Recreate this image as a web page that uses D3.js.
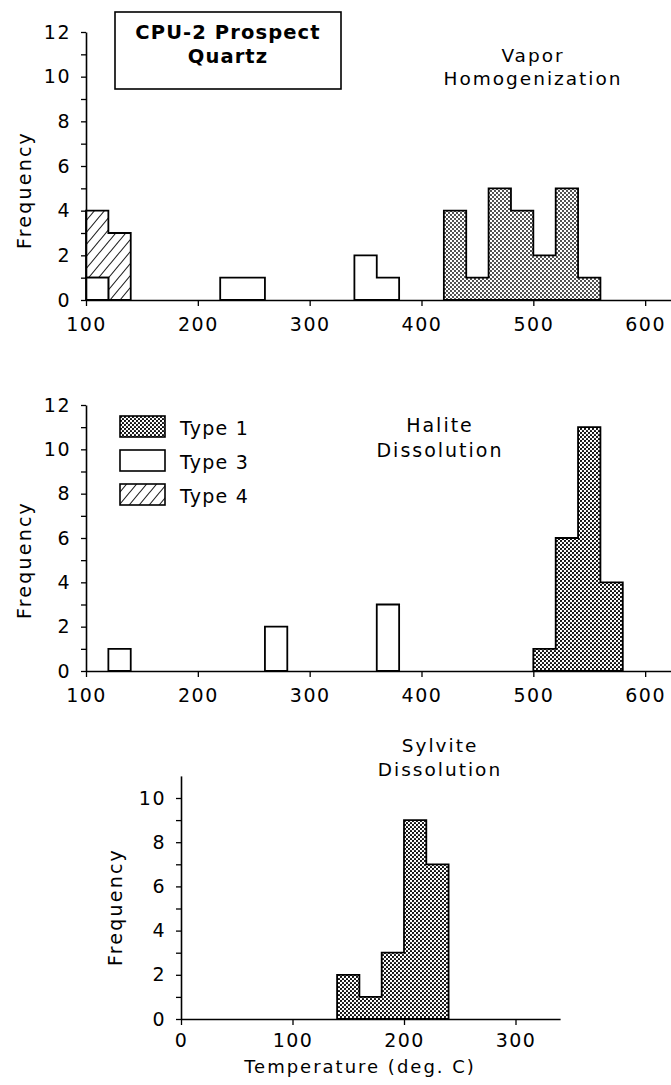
<!DOCTYPE html>
<html><head><meta charset="utf-8">
<script src="https://cdn.jsdelivr.net/npm/d3@7"></script>
<style>
body{margin:0;background:#fff}
svg text{font-family:"DejaVu Sans",sans-serif;fill:#000}
</style>
</head><body>
<svg id="c" width="671" height="1085"></svg>
<script>
const binWidth = 20;
// Panel 1: Vapor Homogenization
const vaporType1Bins = [420, 440, 460, 480, 500, 520, 540];
const vaporType1Counts = [4, 1, 5, 4, 2, 5, 1];
const vaporType3Bins = [100, 220, 240, 340, 360];
const vaporType3Counts = [1, 1, 1, 2, 1];
const vaporType4Bins = [100, 120];
const vaporType4Counts = [3, 3];          // stacked on top of Type 3
// Panel 2: Halite Dissolution
const haliteType1Bins = [500, 520, 540, 560];
const haliteType1Counts = [1, 6, 11, 4];
const haliteType3Bins = [120, 260, 360];
const haliteType3Counts = [1, 2, 3];
// Panel 3: Sylvite Dissolution
const sylviteType1Bins = [140, 160, 180, 200, 220];
const sylviteType1Counts = [2, 1, 3, 9, 7];
// ticks & labels
const xTicksUpper = [100, 200, 300, 400, 500, 600];
const xTicksLower = [0, 100, 200, 300];
const legendLabels = ["Type 1", "Type 3", "Type 4"];
const boxTitle = ["CPU-2 Prospect", "Quartz"];
const panelTitles = [["Vapor", "Homogenization"], ["Halite", "Dissolution"], ["Sylvite", "Dissolution"]];
const yLabel = "Frequency";
const xLabel = "Temperature (deg. C)";

const svg = d3.select("#c");
const defs = svg.append("defs");
function dotPattern(id, r) {
  const p = defs.append("pattern").attr("id", id).attr("patternUnits", "userSpaceOnUse")
    .attr("width", 4).attr("height", 4);
  p.append("rect").attr("width", 4).attr("height", 4).attr("fill", "#fff");
  [[1, 1], [3, 3]].forEach(c => p.append("circle").attr("cx", c[0]).attr("cy", c[1]).attr("r", r).attr("fill", "#000"));
}
dotPattern("dotsLight", 0.9);
dotPattern("dotsDark", 1.1);
const hp = defs.append("pattern").attr("id", "hatch").attr("patternUnits", "userSpaceOnUse")
  .attr("width", 10).attr("height", 12);
hp.append("rect").attr("width", 10).attr("height", 12).attr("fill", "#fff");
hp.append("path").attr("d", "M0,12 L10,0 M-1,1.2 L1,-1.2 M9,13.2 L11,10.8").attr("stroke", "#222").attr("stroke-width", 1.1);

function groups(bins, counts, bases) {
  const out = [];
  bins.forEach((b, i) => {
    const item = {x0: b, x1: b + binWidth, top: (bases ? bases[i] : 0) + counts[i], base: bases ? bases[i] : 0};
    const last = out[out.length - 1];
    if (last && last[last.length - 1].x1 === b) last.push(item); else out.push([item]);
  });
  return out;
}

function drawSeries(g, x, y, bins, counts, fill, bases) {
  const line = d3.line().x(d => x(d[0])).y(d => y(d[1]));
  groups(bins, counts, bases).forEach(grp => {
    const pts = [];
    grp.forEach(d => { pts.push([d.x0, d.top]); pts.push([d.x1, d.top]); });
    grp.slice().reverse().forEach(d => { pts.push([d.x1, d.base]); pts.push([d.x0, d.base]); });
    g.append("path").attr("d", line(pts) + "Z").attr("fill", fill)
      .attr("stroke", "#000").attr("stroke-width", 1.8).attr("stroke-linejoin", "miter");
  });
}

function styleAxis(a) {
  a.select(".domain").attr("stroke", "#000").attr("stroke-width", 1.6);
  a.selectAll(".tick line").attr("stroke", "#000").attr("stroke-width", 1.3);
  a.selectAll("text").attr("font-size", 19).attr("letter-spacing", 1.5)
    .style("font-family", '"DejaVu Sans",sans-serif').attr("fill", "#000");
}

function drawAxes(g, x, y, xTicks, yMax, yTickMax, xPad) {
  const ya = d3.axisLeft(y).tickValues(d3.range(0, yTickMax + 1)).tickSize(5).tickSizeOuter(0).tickPadding(10)
    .tickFormat(d => d % 2 === 0 ? d : "");
  const xa = d3.axisBottom(x).tickValues(xTicks).tickSize(6).tickSizeOuter(0).tickPadding(xPad);
  const gx = g.append("g").attr("transform", `translate(0,${y(0)})`).call(xa);
  const gy = g.append("g").attr("transform", `translate(${x.range()[0]},0)`).call(ya);
  styleAxis(gx); styleAxis(gy);
}

function twoLines(g, cx, lines, baselines, size) {
  lines.forEach((t, i) => g.append("text").attr("x", cx).attr("y", baselines[i])
    .attr("text-anchor", "middle").attr("font-size", size).attr("letter-spacing", 2).text(t));
}
function yTitle(g, bx, cy) {
  g.append("text").attr("transform", `translate(${bx},${cy}) rotate(-90)`).attr("text-anchor", "middle")
    .attr("font-size", 19).attr("letter-spacing", 2.2).text(yLabel);
}

// ---------- Panel 1 ----------
{
  const g = svg.append("g");
  const x = d3.scaleLinear().domain([100, 624]).range([86, 672]);
  const y = d3.scaleLinear().domain([0, 12]).range([300, 32]);
  drawSeries(g, x, y, vaporType1Bins, vaporType1Counts, "url(#dotsLight)");
  const base4 = vaporType4Bins.map(b => { const i = vaporType3Bins.indexOf(b); return i >= 0 ? vaporType3Counts[i] : 0; });
  drawSeries(g, x, y, vaporType4Bins, vaporType4Counts, "url(#hatch)", base4);
  drawSeries(g, x, y, vaporType3Bins, vaporType3Counts, "#fff");
  drawAxes(g, x, y, xTicksUpper, 12, 12, 12);
  yTitle(g, 31, 190);
  g.append("rect").attr("x", 115).attr("y", 12).attr("width", 226).attr("height", 77)
    .attr("fill", "#fff").attr("stroke", "#000").attr("stroke-width", 1.6);
  boxTitle.forEach((t, i) => g.append("text").attr("x", 228).attr("y", [39, 63][i]).attr("text-anchor", "middle")
    .attr("font-size", 19.5).attr("font-weight", "bold").attr("letter-spacing", 1.1).text(t));
  twoLines(g, 533, panelTitles[0], [62, 85], 18.5);
}

// ---------- Panel 2 ----------
{
  const g = svg.append("g");
  const x = d3.scaleLinear().domain([100, 624]).range([86, 672]);
  const y = d3.scaleLinear().domain([0, 12]).range([671, 405]);
  drawSeries(g, x, y, haliteType1Bins, haliteType1Counts, "url(#dotsDark)");
  drawSeries(g, x, y, haliteType3Bins, haliteType3Counts, "#fff");
  drawAxes(g, x, y, xTicksUpper, 12, 12, 12);
  yTitle(g, 31, 560);
  twoLines(g, 440, panelTitles[1], [432, 457], 19);
  const fills = ["url(#dotsDark)", "#fff", "url(#hatch)"];
  legendLabels.forEach((t, i) => {
    const yy = 416 + i * 34;
    g.append("rect").attr("x", 120).attr("y", yy).attr("width", 45).attr("height", 21)
      .attr("fill", fills[i]).attr("stroke", "#000").attr("stroke-width", 1.6);
    g.append("text").attr("x", 180).attr("y", yy + 19).attr("font-size", 19).attr("letter-spacing", 1.2).text(t);
  });
}

// ---------- Panel 3 ----------
{
  const g = svg.append("g");
  const x = d3.scaleLinear().domain([0, 340]).range([181, 181 + 340 * 1.115]);
  const y = d3.scaleLinear().domain([0, 11]).range([1019, 1019 - 11 * 22.1]);
  drawSeries(g, x, y, sylviteType1Bins, sylviteType1Counts, "url(#dotsDark)");
  drawAxes(g, x, y, xTicksLower, 11, 10, 9);
  yTitle(g, 122, 907);
  twoLines(g, 440, panelTitles[2], [752, 776], 18.5);
  g.append("text").attr("x", 360).attr("y", 1073).attr("text-anchor", "middle")
    .attr("font-size", 18).attr("letter-spacing", 2).text(xLabel);
}
</script>
</body></html>
